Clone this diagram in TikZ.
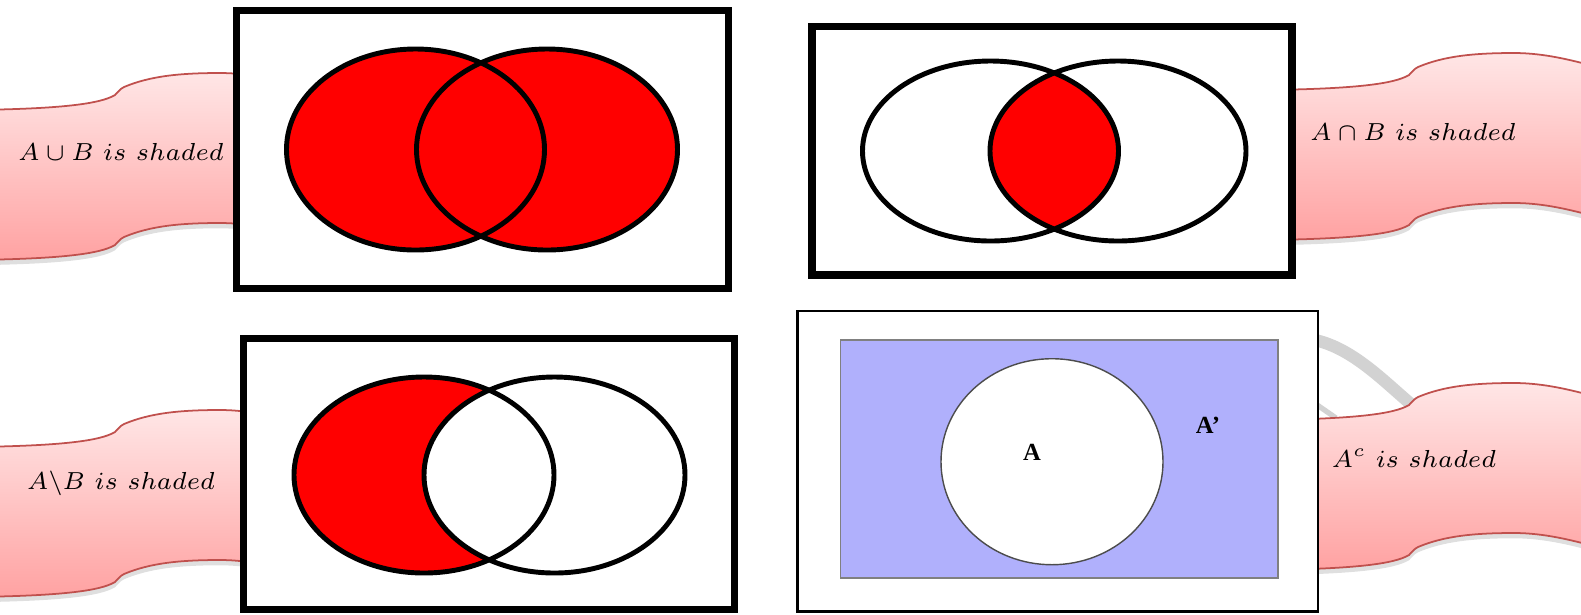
\RequirePackage{fix-cm}
\documentclass[tikz,border=0pt]{standalone}
\usepackage{fontspec}
\newfontfamily\labelfont{Liberation Serif}
\usetikzlibrary{shadows}
\definecolor{setred}{RGB}{255,0,0}
\definecolor{lavender}{RGB}{176,176,252}
\definecolor{ribbonedge}{RGB}{192,80,77}
\definecolor{ribbontop}{RGB}{255,230,230}
\definecolor{ribbonbot}{RGB}{255,162,162}
\tikzset{
  frame/.style={draw=black, line width=2pt, fill=white},
  setline/.style={draw=black, line width=1.4pt},
  caption/.style={font=\fontsize{7}{9}\selectfont, inner sep=0pt},
  setlabel/.style={font=\labelfont\bfseries\fontsize{7}{8}\selectfont, inner sep=0pt},
  ribbon/.pic={
    \path[draw=ribbonedge, line width=0.5pt, top color=ribbontop, bottom color=ribbonbot,
      drop shadow={opacity=0.25, shadow xshift=0pt, shadow yshift=-1.5pt}]
      (-150,20) .. controls (-60,19) and (-20,14) .. (-5,5)
      .. controls (-2,2) and (0,-1) .. (4,-3)
      .. controls (30,-14) and (60,-17) .. (100,-17)
      .. controls (130,-17) and (160,-10) .. (200,2)
      -- (200,152)
      .. controls (160,140) and (130,133) .. (100,133)
      .. controls (60,133) and (30,136) .. (4,147)
      .. controls (0,149) and (-2,152) .. (-5,155)
      .. controls (-20,164) and (-60,169) .. (-150,170) -- cycle;
  }
}
\begin{document}
\begin{tikzpicture}[x=0.01cm, y=-0.01cm]
  \useasboundingbox (0,0) rectangle (1581,614);
  % ribbons, partly hidden behind the frames
  \pic at (120,90) {ribbon};
  \pic at (1414,70) {ribbon};
  \pic at (120,427) {ribbon};
  \draw[gray!35, line width=3.5pt] (1300,338) .. controls (1345,340) and (1380,378) .. (1412,405);
  \draw[gray!35, line width=1.5pt] (1310,400) -- (1336,418);
  \pic at (1414,400) {ribbon};

  % union
  \draw[frame] (236.5,10.5) rectangle (728.5,288.5);
  \fill[setred] (415.5,149.5) ellipse (129 and 100.5) (547,149.5) ellipse (130.5 and 100.5);
  \draw[setline] (415.5,149.5) ellipse (129 and 100.5) (547,149.5) ellipse (130.5 and 100.5);

  % intersection
  \draw[frame] (812,26.5) rectangle (1292,275);
  \begin{scope}
    \clip (990.5,151) ellipse (128 and 90);
    \fill[setred] (1118,151) ellipse (128 and 90);
  \end{scope}
  \draw[setline] (990.5,151) ellipse (128 and 90) (1118,151) ellipse (128 and 90);

  % difference
  \draw[frame] (243.5,338.5) rectangle (734.5,609.5);
  \fill[setred] (424,475) ellipse (130 and 98);
  \fill[white] (554.5,475) ellipse (130.5 and 98);
  \draw[setline] (424,475) ellipse (130 and 98) (554.5,475) ellipse (130.5 and 98);

  % complement
  \draw[fill=white, line width=0.6pt] (797.5,311) rectangle (1318,611.5);
  \draw[fill=lavender, draw=gray, line width=0.4pt] (840.7,340) rectangle (1278,578);
  \draw[fill=white, draw=black!70, line width=0.4pt] (1052,461.7) ellipse (111 and 103);
  \node[setlabel] (setA) at (1032,452) {A};
  \node[setlabel] (setAc) at (1208,425) {A’};

  % captions
  \node[caption] (union) at (121,152) {$A\cup B\ is\ shaded$};
  \node[caption] (inter) at (1413,132) {$A\cap B\ is\ shaded$};
  \node[caption] (diff) at (121,483) {$A\backslash B\ is\ shaded$};
  \node[caption] (compl) at (1414,458) {$A^{c}\ is\ shaded$};
\end{tikzpicture}
\end{document}
